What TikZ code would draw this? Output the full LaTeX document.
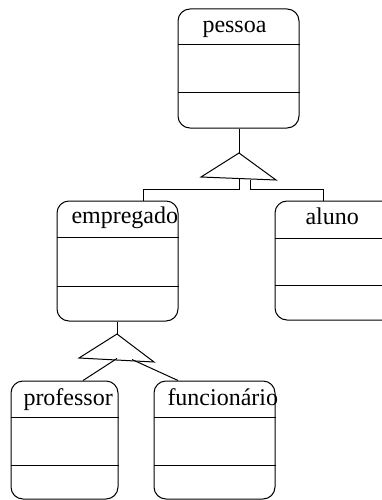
\documentclass[tikz,border=0pt]{standalone}
\usepackage{fontspec}
\setmainfont{Liberation Serif}
\begin{document}
\begin{tikzpicture}[x=1pt,y=-1pt,line width=1pt,
  umlbox/.style={draw,rounded corners=12pt,inner sep=0pt},
  label/.style={anchor=base west,inner sep=0pt,font=\fontsize{24}{28}\selectfont}]
\useasboundingbox (0,0) rectangle (381,500);
% boxes
\node[umlbox,minimum width=121pt,minimum height=119pt] (pessoa) at (238.5,68.5) {};
\node[umlbox,minimum width=121pt,minimum height=120pt] (empregado) at (117.5,261) {};
\node[umlbox,minimum width=121pt,minimum height=119pt] (aluno) at (335.5,260.5) {};
\node[umlbox,minimum width=107pt,minimum height=118pt] (professor) at (64.5,440) {};
\node[umlbox,minimum width=121pt,minimum height=118pt] (funcionario) at (214.5,440) {};
% dividers
\draw (pessoa.west |- 0,45) -- (pessoa.east |- 0,45);
\draw (pessoa.west |- 0,93) -- (pessoa.east |- 0,93);
\draw (empregado.west |- 0,237) -- (empregado.east |- 0,237);
\draw (empregado.west |- 0,286) -- (empregado.east |- 0,286);
\draw (aluno.west |- 0,238) -- (aluno.east |- 0,238);
\draw (aluno.west |- 0,285) -- (aluno.east |- 0,285);
\draw (professor.west |- 0,417) -- (professor.east |- 0,417);
\draw (professor.west |- 0,465) -- (professor.east |- 0,465);
\draw (funcionario.west |- 0,417) -- (funcionario.east |- 0,417);
\draw (funcionario.west |- 0,465) -- (funcionario.east |- 0,465);
% labels
\node[label] (tp) at (202,33) {pessoa};
\node[label] (te) at (71,223) {empregado};
\node[label] (ta) at (305,224) {aluno};
\node[label] (tpr) at (23,405) {professor};
\node[label] (tf) at (167,405) {funcionário};
% upper generalization
\coordinate (t1a) at (239,153);
\coordinate (t1l) at (201,177);
\coordinate (t1r) at (276,180);
\coordinate (t1b1) at (239,177.5);
\coordinate (t1b2) at (250,179.5);
\draw (pessoa.south -| t1a) -- (t1a);
\draw (t1a) -- (t1l) -- (t1r) -- cycle;
\draw (t1b1) -- (239,189) -- (143,189) -- (empregado.north -| 143,0);
\draw (t1b2) -- (250,189) -- (323,189) -- (aluno.north -| 323,0);
% lower generalization
\coordinate (t2a) at (117,334);
\coordinate (t2l) at (79,358);
\coordinate (t2r) at (154,362);
\coordinate (t2b1) at (117,358.5);
\coordinate (t2b2) at (132,359.5);
\draw (empregado.south -| t2a) -- (t2a);
\draw (t2a) -- (t2l) -- (t2r) -- cycle;
\draw (t2b1) -- (professor.north -| 83,0);
\draw (t2b2) -- (funcionario.north -| 178,0);
\end{tikzpicture}
\end{document}
